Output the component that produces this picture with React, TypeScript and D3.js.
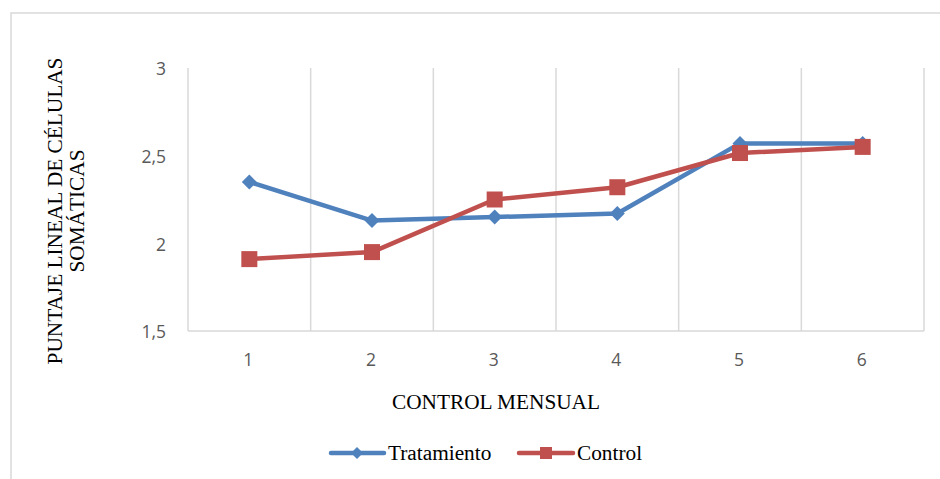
import React from "react";
import * as d3 from "d3";

const categories = ["1", "2", "3", "4", "5", "6"];
const tratamiento = [2.35, 2.13, 2.15, 2.17, 2.57, 2.57];
const control = [1.91, 1.95, 2.25, 2.32, 2.515, 2.55];
const yTicks = [1.5, 2, 2.5, 3];
const seriesNames = ["Tratamiento", "Control"];

const W = 940;
const H = 479;
const plot = { left: 188, right: 924, top: 68, bottom: 331 };
const BLUE = "#4f81bd";
const RED = "#c0504d";
const GRID = "#d9d9d9";
const TICK = "#595959";
const SANS = "'Open Sans', 'Noto Sans', sans-serif";
const SERIF = "'Liberation Serif', 'Times New Roman', serif";
const TITLE_SIZE = 21.3;

export default function App() {
  const x = d3.scaleBand<string>().domain(categories).range([plot.left, plot.right]).padding(0);
  const y = d3.scaleLinear().domain([1.5, 3]).range([plot.bottom, plot.top]);
  const cx = (i: number) => (x(categories[i]) as number) + x.bandwidth() / 2;
  const line = d3
    .line<number>()
    .x((_, i) => cx(i))
    .y((d) => y(d));
  const boundaries = categories.map((c) => x(c) as number).concat([plot.right]);

  const diamondPath = (px: number, py: number, r: number) =>
    `M${px},${py - r}L${px + r},${py}L${px},${py + r}L${px - r},${py}Z`;

  return (
    <svg
      width={W}
      height={H}
      style={{ position: "fixed", left: 0, top: 0, background: "#fff" }}
    >
      <rect x={11} y={13} width={W + 20} height={H + 20} fill="#fff" stroke={GRID} strokeWidth={1.5} />
      {/* vertical gridlines */}
      {boundaries.map((b, i) => (
        <line key={i} x1={b} x2={b} y1={plot.top} y2={plot.bottom} stroke={GRID} strokeWidth={1.5} />
      ))}
      <line x1={plot.left} x2={plot.right} y1={plot.bottom} y2={plot.bottom} stroke={GRID} strokeWidth={1.5} />
      {/* y tick labels */}
      {yTicks.map((t) => (
        <text
          key={t}
          x={166}
          y={y(t) + 1}
          dy="0.36em"
          textAnchor="end"
          fontFamily={SANS}
          fontSize={17.5}
          fill={TICK}
        >
          {String(t).replace(".", ",")}
        </text>
      ))}
      {/* x tick labels */}
      {categories.map((c, i) => (
        <text
          key={c}
          x={cx(i) - 1}
          y={360}
          dy="0.36em"
          textAnchor="middle"
          fontFamily={SANS}
          fontSize={17.5}
          fill={TICK}
        >
          {c}
        </text>
      ))}
      {/* axis titles */}
      <text x={496} y={409} textAnchor="middle" fontFamily={SERIF} fontSize={TITLE_SIZE} fill="#000">
        CONTROL MENSUAL
      </text>
      <g transform="translate(0,211) rotate(-90)">
        <text x={0} y={62} textAnchor="middle" fontFamily={SERIF} fontSize={TITLE_SIZE} fill="#000">
          PUNTAJE LINEAL DE CÉLULAS
        </text>
        <text x={0} y={84} textAnchor="middle" fontFamily={SERIF} fontSize={TITLE_SIZE} fill="#000">
          SOMÁTICAS
        </text>
      </g>
      {/* series */}
      <path d={line(tratamiento) || ""} fill="none" stroke={BLUE} strokeWidth={4.5} strokeLinejoin="round" />
      {tratamiento.map((v, i) => (
        <path key={i} d={diamondPath(cx(i), y(v), 7.5)} fill={BLUE} />
      ))}
      <path d={line(control) || ""} fill="none" stroke={RED} strokeWidth={4.5} strokeLinejoin="round" />
      {control.map((v, i) => (
        <rect key={i} x={cx(i) - 8} y={y(v) - 8} width={16} height={16} fill={RED} />
      ))}
      {/* legend */}
      <g>
        <line x1={331} x2={384} y1={453} y2={453} stroke={BLUE} strokeWidth={4.5} strokeLinecap="round" />
        <path d={diamondPath(357, 453, 6)} fill={BLUE} />
        <text x={388} y={460} fontFamily={SERIF} fontSize={TITLE_SIZE} fill="#000">
          {seriesNames[0]}
        </text>
        <line x1={519} x2={573} y1={453} y2={453} stroke={RED} strokeWidth={4.5} strokeLinecap="round" />
        <rect x={540} y={447} width={12} height={12} fill={RED} />
        <text x={577} y={460} fontFamily={SERIF} fontSize={TITLE_SIZE} fill="#000">
          {seriesNames[1]}
        </text>
      </g>
    </svg>
  );
}
